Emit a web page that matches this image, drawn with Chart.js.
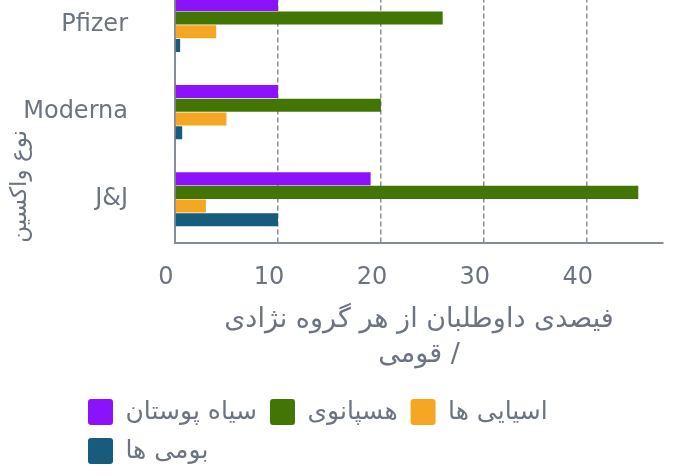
<!DOCTYPE html>
<html>
<head>
<meta charset="utf-8">
<script src="https://cdn.jsdelivr.net/npm/chart.js@4.4.1/dist/chart.umd.min.js"></script>
<style>
  body { margin: 0; overflow: hidden; background: #ffffff; }
  #wrap { position: absolute; left: 0; top: -33px; width: 674px; height: 509px; }
</style>
</head>
<body>
<div id="wrap"><canvas id="myVaccineChart"></canvas></div>
<script>
// values (percent of volunteers)
var vaccines = ["Pfizer", "Moderna", "J&J"];
var seriesNames = ["سیاه پوستان", "هسپانوی", "اسیایی ها", "بومی ها"];
var blackValues = [10, 10, 19];
var hispanicValues = [26, 20, 45];
var asianValues = [4, 5, 3];
var nativeValues = [0.5, 0.7, 10];
var xTicks = [0, 10, 20, 30, 40];

var xTitle = ["فیصدی داوطلبان از هر گروه نژادی", "قومی /"];
var yTitle = "نوع واکسین";

var textGrey = "#6b7480";
var lineGrey = "#868d96";

Chart.defaults.font.family = "'DejaVu Sans', sans-serif";

// let the vaccine axis use the empty strip on the left for its labels and title
var yAxisToEdge = {
  id: 'yAxisToEdge',
  afterLayout: function (chart) {
    chart.scales.y.left = 0;
  }
};

var canvasVaccine = document.getElementById("myVaccineChart");
var myVaccineChart = new Chart(canvasVaccine, {
  type: 'bar',
  data: {
    labels: vaccines,
    datasets: [
        {
			data: blackValues,
			label: seriesNames[0],
			backgroundColor: "#8c12fc"
		},
		{
			data: hispanicValues,
			label: seriesNames[1],
			backgroundColor: "#437505"
		},
		{
			data: asianValues,
			label: seriesNames[2],
			backgroundColor: "#f5a623"
		},
		{
			data: nativeValues,
			label: seriesNames[3],
			backgroundColor: "#175c7d"
		}
    ]
  },
  plugins: [yAxisToEdge],
  options: {
    indexAxis: 'y',
    responsive: true,
    maintainAspectRatio: false,
    animation: false,
    categoryPercentage: 0.63,
    barPercentage: 0.95,
    layout: { padding: { left: 75, right: 11, top: 14.4, bottom: 2 } },
    scales: {
      x: {
        min: 0,
        max: 47.4,
        afterBuildTicks: function (scale) {
          scale.ticks = xTicks.map(function (v) { return { value: v }; });
        },
        grid: { color: lineGrey, lineWidth: 1.5, drawTicks: false },
        border: { display: true, color: lineGrey, width: 2, dash: [5, 3] },
        ticks: {
          color: textGrey,
          padding: 21,
          labelOffset: -9,
          font: { size: 24 }
        },
        title: {
          display: true,
          text: xTitle,
          color: textGrey,
          font: { size: 27, lineHeight: 1.3 },
          padding: { top: -11.3, bottom: 13.5 }
        }
      },
      y: {
        afterFit: function (scale) { scale.width = 100; },
        grid: { display: false, drawTicks: true, tickLength: 47 },
        border: { display: true, color: lineGrey, width: 2 },
        ticks: {
          color: textGrey,
          padding: 0,
          font: { size: 24 }
        },
        title: {
          display: true,
          text: yTitle,
          align: 'start',
          color: textGrey,
          font: { size: 23 },
          padding: { top: 6, bottom: 0 }
        }
      }
    },
    plugins: {
      tooltip: { enabled: false },
      legend: {
        position: 'bottom',
        align: 'start',
        labels: {
          color: textGrey,
          boxWidth: 25,
          boxHeight: 26,
          padding: 13,
          useBorderRadius: true,
          borderRadius: 3,
          font: { size: 25 }
        }
      }
    }
  }
});
</script>
</body>
</html>
